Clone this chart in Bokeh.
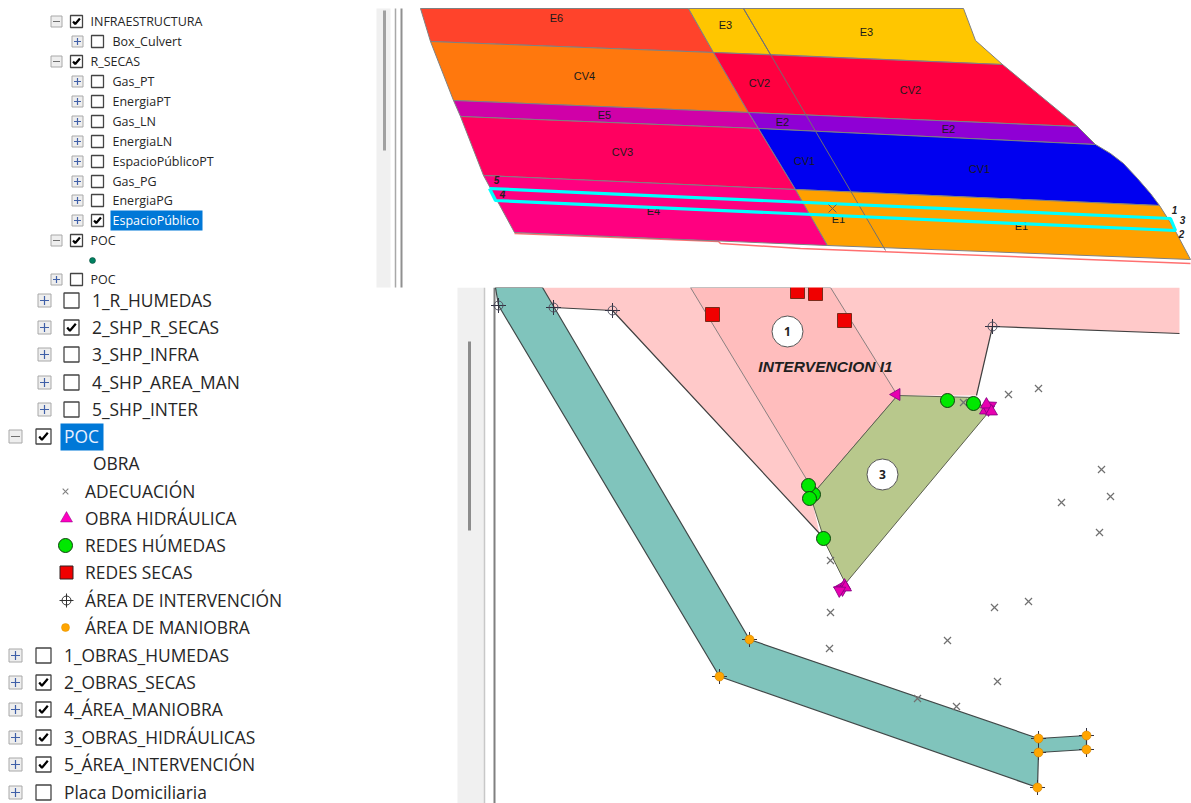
from bokeh.plotting import figure
from bokeh.models import Range1d
from bokeh.core.properties import value
from bokeh.embed import file_html
from bokeh.resources import INLINE

FONT = "Open Sans"

# ---------- upper map blocks (x / y) ----------
BLOCK_NAMES = ["E6", "E3a", "E3b", "CV4", "CV2", "E5", "E2", "CV3", "CV1", "E4", "E1"]
BLOCK_COLORS = ["#ff432b", "#ffc600", "#ffc600", "#ff780d", "#ff0040", "#d000a8", "#8f00d5",
                "#ff0060", "#0000f0", "#ff0080", "#ffa000"]
BLOCK_XS = [
    [420, 688, 713, 430],
    [688, 743, 770, 713],
    [743, 963, 975, 1002, 770],
    [430, 713, 748, 453],
    [713, 1002, 1077, 748],
    [453, 748, 758, 460],
    [748, 1077, 1095, 758],
    [460, 758, 795, 483],
    [758, 1095, 1110, 1123, 1137, 1150, 1159, 795],
    [483, 795, 827, 514],
    [795, 1159, 1173, 1190, 827],
]
BLOCK_YS = [
    [8, 8, 52, 41],
    [8, 8, 54, 52],
    [8, 8, 40, 64, 54],
    [41, 52, 112, 100],
    [52, 64, 126, 112],
    [100, 112, 128, 116],
    [112, 126, 144, 128],
    [116, 128, 189, 175],
    [128, 144, 153, 163, 178, 193, 205, 189],
    [175, 189, 245, 232],
    [189, 205, 227, 259, 245],
]
AXIS_LINE_X = [743, 885]
AXIS_LINE_Y = [8, 250]
RED_EDGE_X = [514, 718, 720, 800, 1190]
RED_EDGE_Y = [233, 241, 243, 248, 263]
CYAN_X = [489, 1170, 1175, 495, 489]
CYAN_Y = [188, 218, 230, 200, 188]
BLOCK_LABELS = ["E6", "E3", "E3", "CV4", "CV2", "CV2", "E5", "E2", "E2", "CV3", "CV1", "CV1", "E4", "E1", "E1"]
BLOCK_LABEL_X = [556, 725, 866, 584, 759, 910, 604, 782, 948, 622, 804, 979, 653, 838, 1021]
BLOCK_LABEL_Y = [17, 24, 31, 75, 82, 89, 114, 121, 128, 151, 160, 168, 210, 218, 225]
VERTEX_LABELS = ["5", "4", "1", "3", "2"]
VERTEX_X = [496, 502, 1174, 1182, 1181]
VERTEX_Y = [179, 193, 209, 219, 233]

# ---------- lower map ----------
PINK_X = [542, 1179, 1179, 992, 976, 897, 817, 812, 819, 612, 553]
PINK_Y = [287, 287, 333, 326, 395, 395, 488, 502, 533, 310, 307]
PINK_INNER_X = [690, 830, 897, 817, 808]
PINK_INNER_Y = [287, 287, 395, 488, 482]
PINK_EDGE_X = [553, 612, 819]
PINK_EDGE_Y = [307, 310, 533]
PINK_EDGE2_X = [1179, 992, 976]
PINK_EDGE2_Y = [333, 326, 395]
OLIVE_X = [897, 975, 987, 845, 825, 812, 817]
OLIVE_Y = [395, 397, 413, 583, 543, 502, 488]
TEAL_X = [495, 542, 749, 1038, 1086, 1086, 1038, 1037, 719, 498]
TEAL_Y = [287, 287, 639, 738, 735, 749, 752, 787, 676, 305]
AREA_X = [498, 553, 612, 992]
AREA_Y = [305, 307, 310, 326]
MAN_X = [749, 719, 1038, 1038, 1086, 1086, 1037]
MAN_Y = [639, 676, 738, 752, 735, 749, 787]
SECAS_X = [797, 815, 712, 844]
SECAS_Y = [291, 293, 314, 320]
HUM_X = [813, 808, 809, 823, 947, 973]
HUM_Y = [494, 485, 498, 538, 400, 403]
HID_X = [896, 985, 990, 988, 986, 991, 840, 844, 842, 845, 839]
HID_Y = [394, 410, 405, 409, 404, 411, 587, 585, 589, 587, 590]
HID_A = [1.57, 0.0, 1.0, 3.14, 4.2, 2.1, 1.57, 0.0, 3.14, 4.2, 5.2]
ADE_X = [1008, 1038, 1101, 1110, 1061, 1099, 963, 830, 830, 994, 1028, 947, 829, 997, 917, 956]
ADE_Y = [394, 388, 469, 496, 502, 532, 402, 560, 612, 607, 601, 640, 648, 681, 698, 706]
BADGE_X = [787, 882]
BADGE_Y = [331, 474]
BADGE_T = ["1", "3"]

# ---------- table of contents ----------
TOP_GROUP_T = ["INFRAESTRUCTURA", "R_SECAS", "POC", "POC"]
TOP_GROUP_Y = [21, 61, 240, 279]
TOP_GROUP_CHECK = [1, 1, 1, 0]
TOP_GROUP_OPEN = [1, 1, 1, 0]
TOP_CHILD_T = ["Box_Culvert", "Gas_PT", "EnergiaPT", "Gas_LN", "EnergiaLN", "EspacioPúblicoPT",
               "Gas_PG", "EnergiaPG", "EspacioPúblico"]
TOP_CHILD_Y = [41, 81, 101, 121, 141, 161, 181, 200, 220]
TOP_CHILD_CHECK = [0, 0, 0, 0, 0, 0, 0, 0, 1]
LOW_SUB_T = ["1_R_HUMEDAS", "2_SHP_R_SECAS", "3_SHP_INFRA", "4_SHP_AREA_MAN", "5_SHP_INTER"]
LOW_SUB_Y = [300, 327, 354, 382, 409]
LOW_SUB_CHECK = [0, 1, 0, 0, 0]
LOW_ROOT_T = ["POC", "1_OBRAS_HUMEDAS", "2_OBRAS_SECAS", "4_ÁREA_MANIOBRA", "3_OBRAS_HIDRÁULICAS",
              "5_ÁREA_INTERVENCIÓN", "Placa Domiciliaria"]
LOW_ROOT_Y = [436, 655, 682, 709, 737, 764, 792]
LOW_ROOT_CHECK = [1, 0, 1, 1, 1, 1, 0]
LOW_ROOT_OPEN = [1, 0, 0, 0, 0, 0, 0]
LEGEND_T = ["ADECUACIÓN", "OBRA HIDRÁULICA", "REDES HÚMEDAS", "REDES SECAS", "ÁREA DE INTERVENCIÓN", "ÁREA DE MANIOBRA"]
LEGEND_Y = [491, 518, 545, 572, 600, 627]

p = figure(width=1191, height=803, x_range=Range1d(0, 1191), y_range=Range1d(803, 0),
           output_backend="svg", toolbar_location=None, min_border=0)
p.axis.visible = False
p.grid.visible = False
p.outline_line_color = None
p.background_fill_color = "white"


def txt(x, y, t, size, color="#262626", style="normal", align="left"):
    return p.text(x, y, text=t, text_font=value(FONT), text_font_size=value(f"{size}px"),
                  text_color=color, text_baseline="middle", text_align=align, text_font_style=style)


def up(ys):
    return [v - 1 for v in ys]


# lower map
p.quad(left=[457], right=[484], top=[287], bottom=[803], fill_color="#f0f0f0", line_color=None)
p.segment(x0=[469], y0=[341], x1=[469], y1=[530], line_color="#8c8c8c", line_width=3)
p.segment(x0=[484, 494], y0=[287, 287], x1=[484, 494], y1=[803, 803],
          line_color=["#c8c8c8", "#808080"], line_width=[1.5, 2])
p.patch(PINK_X, PINK_Y, fill_color="#ffc9c9", line_color=None)
p.patch(PINK_INNER_X, PINK_INNER_Y, fill_color="#ffbdbd", line_color="#8a8080", line_width=1)
p.line(PINK_EDGE_X, PINK_EDGE_Y, line_color="#404040", line_width=1.2)
p.line(PINK_EDGE2_X, PINK_EDGE2_Y, line_color="#404040", line_width=1.2)
p.patch(OLIVE_X, OLIVE_Y, fill_color="#b8c88c", line_color="#5c6050", line_width=1)
p.patch(TEAL_X, TEAL_Y, fill_color="#80c4bc", line_color="#404848", line_width=1.2)

p.scatter(ADE_X, ADE_Y, marker="x", size=10, line_color="#707070", line_width=1.2)
p.scatter(AREA_X, AREA_Y, marker="cross", size=15, line_color="#303040", line_width=1)
p.scatter(AREA_X, AREA_Y, marker="circle", size=9, fill_color=None, line_color="#505060", line_width=1)
p.scatter(MAN_X, MAN_Y, marker="cross", size=15, line_color="#303040", line_width=1)
p.scatter(MAN_X, MAN_Y, marker="circle", size=9, fill_color="#ffa500", line_color="#d08000", line_width=0.6)
p.scatter(SECAS_X, SECAS_Y, marker="square", size=14, fill_color="#f00000", line_color="#7a2a1a", line_width=1)
p.scatter(HID_X, HID_Y, marker="triangle", size=12, angle=HID_A, fill_color="#e800b0",
          line_color="#800080", line_width=0.8)
p.scatter(HUM_X, HUM_Y, marker="circle", size=14, fill_color="#00e800", line_color="#104010", line_width=1)
p.scatter(BADGE_X, BADGE_Y, marker="circle", size=31, fill_color="white", line_color="#555555", line_width=1)
txt(BADGE_X, BADGE_Y, BADGE_T, 12, color="#222222", style="bold", align="center")
p.text([825], [366], text=["INTERVENCION I1"], text_font=value("Liberation Sans"), text_font_size=value("15.5px"),
       text_font_style="bold italic", text_color="#202020", text_align="center", text_baseline="middle")

# upper panel covers what runs above the lower map
p.quad(left=[376], right=[1191], top=[8], bottom=[287], fill_color="white", line_color=None)
p.quad(left=[376], right=[390], top=[8], bottom=[287], fill_color="#f0f0f0", line_color=None)
p.segment(x0=[384], y0=[10], x1=[384], y1=[150], line_color="#a0a0a0", line_width=3)
p.segment(x0=[395, 401], y0=[8, 8], x1=[395, 401], y1=[287, 287],
          line_color=["#a8a8a8", "#909090"], line_width=[1.5, 2])
p.line(RED_EDGE_X, RED_EDGE_Y, line_color="#ff7070", line_width=1.5)
p.patches(BLOCK_XS, BLOCK_YS, fill_color=BLOCK_COLORS, line_color="#808080", line_width=1)
p.line(AXIS_LINE_X, AXIS_LINE_Y, line_color="#707070", line_width=1)
txt(BLOCK_LABEL_X, BLOCK_LABEL_Y, BLOCK_LABELS, 11, color="#1a1a1a",
    align="center").glyph.text_font = value("Liberation Sans")
txt(VERTEX_X, VERTEX_Y, VERTEX_LABELS, 10, color="#222222", style="bold italic",
    align="center").glyph.text_font = value("Liberation Sans")
p.line(CYAN_X, CYAN_Y, line_color="#00ffff", line_width=3.2)
p.scatter([832], [208], marker="x", size=11, line_color="#606060", line_width=1)


# tree
def expander(x, y, opened, size):
    p.scatter(x, y, marker="square", size=size, fill_color="#eeeeee", line_color="#a8a8a8", line_width=1)
    for xi, yi, o in zip(x, y, opened):
        p.scatter([xi], [yi], marker="dash" if o else "cross", size=size - 4,
                  line_color="#707070" if o else "#4060a8", line_width=1.2)


def checks(x, y, checked, size):
    p.scatter(x, y, marker="square", size=size, fill_color="white", line_color="#444444", line_width=1.3)
    for xi, yi, c in zip(x, y, checked):
        if c:
            k = size / 14.0
            p.line([xi - 4 * k, xi - 1.5 * k, xi + 4 * k], [yi, yi + 3 * k, yi - 3.5 * k],
                   line_color="black", line_width=2.2)


n = len(TOP_GROUP_Y)
expander([56] * n, TOP_GROUP_Y, TOP_GROUP_OPEN, 11)
checks([76] * n, TOP_GROUP_Y, TOP_GROUP_CHECK, 12)
txt([90] * n, TOP_GROUP_Y, TOP_GROUP_T, 12.5)
n = len(TOP_CHILD_Y)
expander([77] * n, TOP_CHILD_Y, [0] * n, 11)
checks([97] * n, TOP_CHILD_Y, TOP_CHILD_CHECK, 12)
p.quad(left=[110], right=[202], top=[210], bottom=[230], fill_color="#0078d7", line_color=None)
txt([112] * (n - 1), TOP_CHILD_Y[:-1], TOP_CHILD_T[:-1], 12.5)
txt([112], TOP_CHILD_Y[-1:], TOP_CHILD_T[-1:], 12.5, color="white")
p.scatter([92], [260], marker="circle", size=6, fill_color="#008060", line_color="#004030", line_width=0.5)

n = len(LOW_SUB_Y)
expander([44] * n, LOW_SUB_Y, [0] * n, 13)
checks([71] * n, LOW_SUB_Y, LOW_SUB_CHECK, 15)
txt([91.5] * n, up(LOW_SUB_Y), LOW_SUB_T, 17.4)
n = len(LOW_ROOT_Y)
expander([15] * n, LOW_ROOT_Y, LOW_ROOT_OPEN, 13)
checks([43] * n, LOW_ROOT_Y, LOW_ROOT_CHECK, 15)
p.quad(left=[60], right=[103], top=[423], bottom=[450], fill_color="#0078d7", line_color=None)
txt([63.5], up(LOW_ROOT_Y[:1]), LOW_ROOT_T[:1], 17.4, color="#e8f0ff")
txt([63.5] * (n - 1), up(LOW_ROOT_Y[1:]), LOW_ROOT_T[1:], 17.4)
txt([92.5], [462], ["OBRA"], 17.4)
txt([84.5] * len(LEGEND_Y), up(LEGEND_Y), LEGEND_T, 17.4)
p.scatter([65], LEGEND_Y[:1], marker="x", size=8, line_color="#808080", line_width=1.1)
p.scatter([66], LEGEND_Y[1:2], marker="triangle", size=12, fill_color="#ff00c0", line_color="#800080", line_width=0.5)
p.scatter([65], LEGEND_Y[2:3], marker="circle", size=14, fill_color="#00e800", line_color="#104010", line_width=1)
p.scatter([66], LEGEND_Y[3:4], marker="square", size=13, fill_color="#f00000", line_color="#302020", line_width=1)
p.scatter([66], LEGEND_Y[4:5], marker="cross", size=14, line_color="#303030", line_width=1)
p.scatter([66], LEGEND_Y[4:5], marker="circle", size=9, fill_color=None, line_color="#303030", line_width=1)
p.scatter([65], LEGEND_Y[5:6], marker="circle", size=8, fill_color="#ffa500", line_color="#e09000", line_width=0.5)

open("out.html", "w").write(file_html(p, INLINE))
